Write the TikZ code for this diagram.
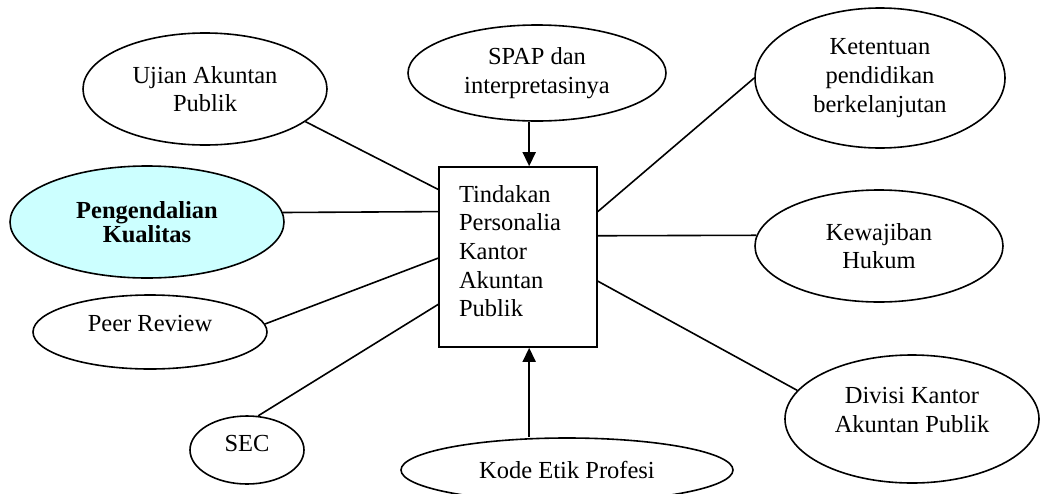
\documentclass[tikz,border=0pt]{standalone}
\usepackage{fontspec}
\setmainfont{Liberation Serif}
\usetikzlibrary{shapes.geometric,arrows.meta,calc}
\definecolor{pcyan}{RGB}{204,255,255}
\newcommand\txtfont{\fontsize{24.5pt}{28.7pt}\selectfont}
\tikzset{
  ell/.style={draw, ellipse, line width=1.6pt, inner sep=0pt, align=center, font=\txtfont},
  mainbox/.style={draw, rectangle, line width=1.6pt, minimum width=158pt, minimum height=180pt,
    text width=118pt, inner xsep=20pt, inner ysep=0pt, align=left, font=\txtfont},
  link/.style={line width=1.6pt},
  arr/.style={line width=1.6pt, -{Triangle[length=14pt,width=13pt]}}
}
\begin{document}
\begin{tikzpicture}[x=1pt,y=-1pt]
\useasboundingbox (0,0) rectangle (1041,493);
\clip (0,0) rectangle (1041,493);
% central box
\node[mainbox, text depth=127pt] (box) at (518,257) {Tindakan\\Personalia\\Kantor\\Akuntan\\Publik};
% surrounding ellipses
\node[ell, minimum width=244pt, minimum height=112pt] (ujian) at (205,89) {Ujian Akuntan\\Publik};
\node[ell, minimum width=258pt, minimum height=96pt] (spap) at (537,73) {SPAP dan\\interpretasinya};
\node[ell, minimum width=250pt, minimum height=140pt] (ket) at (880,78) {Ketentuan\\pendidikan\\berkelanjutan};
\node[ell, fill=pcyan, minimum width=274pt, minimum height=112pt,
      font=\fontsize{24.5pt}{24pt}\selectfont\bfseries] (peng) at (147,222) {Pengendalian\\Kualitas};
\node[ell, minimum width=248pt, minimum height=112pt] (kew) at (879,246) {Kewajiban\\Hukum};
\node[ell, minimum width=234pt, minimum height=74pt, text depth=18pt] (peer) at (150,332) {Peer Review};
\node[ell, minimum width=114pt, minimum height=68pt, text depth=14pt] (sec) at (247,450) {SEC};
\node[ell, minimum width=254pt, minimum height=128pt, text depth=18pt] (divisi) at (912,419) {Divisi Kantor\\Akuntan Publik};
\node[ell, minimum width=332pt, minimum height=64pt] (kode) at (567,470) {Kode Etik Profesi};
% attachment points on the box
\coordinate (bt) at ($(box.north west)!0.57!(box.north east)$);
\coordinate (bb) at ($(box.south west)!0.57!(box.south east)$);
% connectors
\draw[link] (ujian.-18.6) -- ($(box.north west)!0.128!(box.south west)$);
\draw[link] (peng.4.2) -- ($(box.north west)!0.25!(box.south west)$);
\draw[link] (peer.4.6) -- ($(box.north west)!0.506!(box.south west)$);
\draw[link] (sec.72) -- ($(box.north west)!0.761!(box.south west)$);
\draw[link] ($(box.north east)!0.25!(box.south east)$) -- (ket.180);
\draw[link] ($(box.north east)!0.383!(box.south east)$) -- (kew.175.3);
\draw[link] ($(box.north east)!0.633!(box.south east)$) -- (divisi.166.9);
\draw[arr] (spap.south -| bt) -- (bt);
\draw[arr] (kode.north -| bb) -- (bb);
\end{tikzpicture}
\end{document}
